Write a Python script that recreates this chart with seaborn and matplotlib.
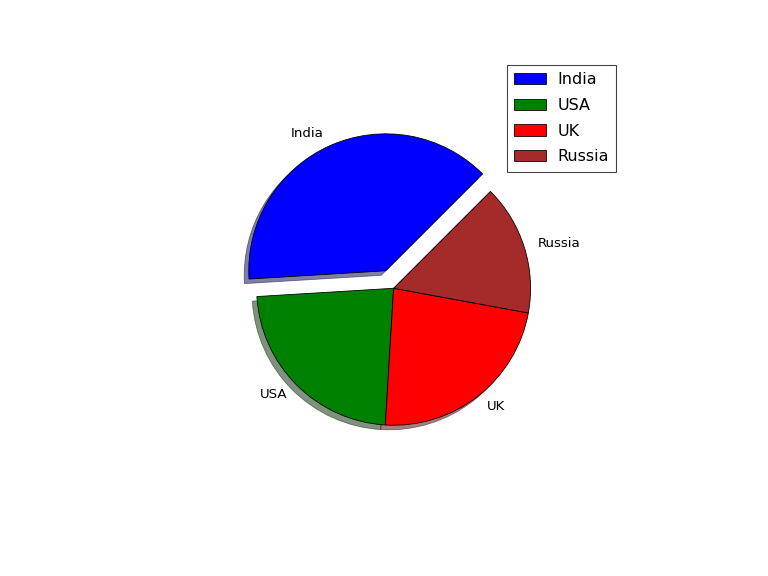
import seaborn as sns
import matplotlib
matplotlib.use("Agg")
import matplotlib.pyplot as plt

# data
countries = ["India", "USA", "UK", "Russia"]
shares = [5, 3, 3, 2]
colours = ["blue", "green", "red", "brown"]
explode = [0.14, 0, 0, 0]

sns.set_style("white")
plt.rcParams["font.family"] = ["DejaVu Sans"]
plt.rcParams["text.color"] = "black"

fig, ax = plt.subplots(figsize=(8, 6), dpi=96)
fig.subplots_adjust(left=0.125, right=0.9, bottom=0.11, top=0.88)

palette = sns.color_palette(colours)
ax.pie(shares, labels=countries, colors=palette, explode=explode,
       startangle=45, shadow={"ox": -0.025, "oy": -0.025},
       wedgeprops={"edgecolor": "black", "linewidth": 0.6},
       textprops={"fontsize": 10})
ax.set_aspect("equal")
ax.set_xlim(-1.62, 1.62)
ax.set_ylim(-1.638, 1.6)
ax.axis("off")

leg = ax.legend(loc="upper right", bbox_to_anchor=(616 / 768, 1 - 65 / 576),
                bbox_transform=fig.transFigure, borderaxespad=0,
                fontsize=12, fancybox=False, framealpha=1,
                labelspacing=0.67, borderpad=0.45, handletextpad=0.7)
leg.get_frame().set_edgecolor("0.25")
leg.get_frame().set_linewidth(0.8)

fig.savefig("out.png", dpi=96, facecolor="white")
